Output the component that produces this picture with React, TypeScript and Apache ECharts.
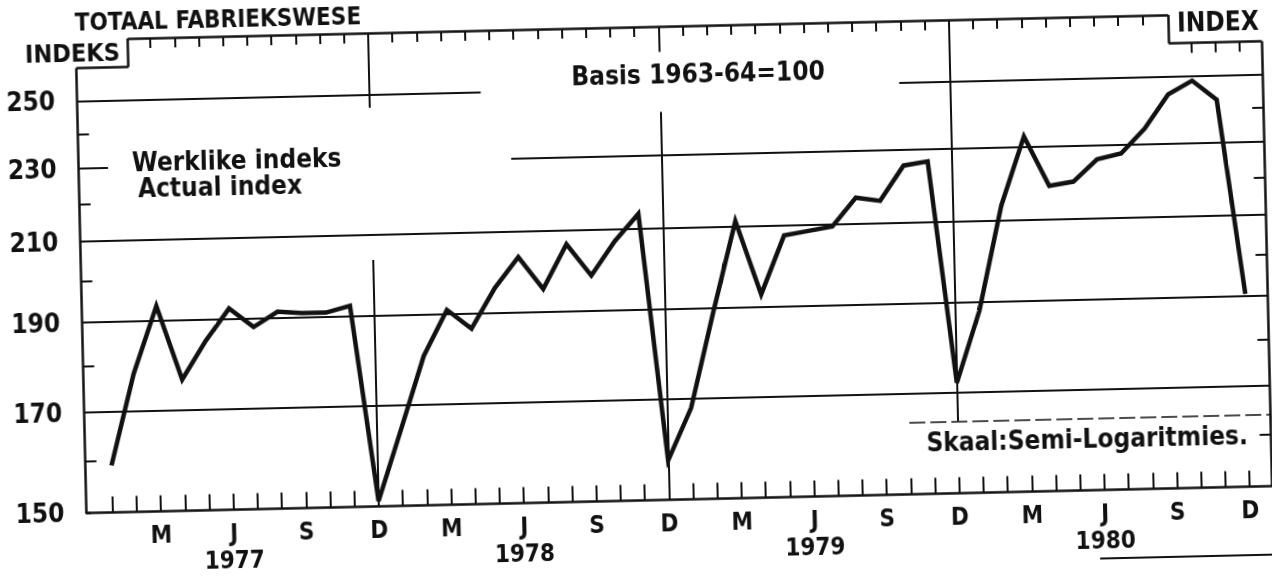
import React, { useEffect, useRef } from 'react';
import * as echarts from 'echarts';

// ---------- data ----------
const years = ['1977', '1978', '1979', '1980'];
const monthLetters = ['J', 'F', 'M', 'A', 'M', 'J', 'J', 'A', 'S', 'O', 'N', 'D'];
const labelledMonths = [2, 5, 8, 11]; // M, J, S, D
const yearLabelMonth = 5; // year written under "J"

const index1977 = [159, 178, 193.5, 176.5, 185, 192.5, 188, 191.5, 191, 191, 192.5, 151];
const index1978 = [165, 180.5, 191, 186.5, 196, 203.5, 195.5, 206.5, 198.5, 207, 214, 157.5];
const index1979 = [168, 189, 211.5, 193, 207.5, 208.5, 209.5, 217, 216, 225.5, 226.5, 172];
const index1980 = [188, 214, 233, 219, 220, 226, 227.5, 234.5, 244.5, 248.5, 242.5, 190.5];

const labelledLevels = [150, 170, 190, 210, 230, 250];
const minorLevels = [160, 180, 200, 220, 240];

// ---------- layout ----------
const FONT = "'DejaVu Sans Condensed', 'DejaVu Sans', sans-serif";
const INK = '#111';
const PAD = 40;
const X0 = 107.7; // px of first month (unrotated)
const DX = 24.2; // px per month
const X_MIN = -1.08;
const X_MAX = 47.92;
const Y_MIN = 150;
const Y_MAX = 269.8;
const XL = X_MIN + 0.0005;
const XR = X_MAX - 0.0005;
const TOPV = 269.79;
const NOTCH = 260.4;
const NL = 1.07;
const NR = 44.07;

const allValues = [...index1977, ...index1978, ...index1979, ...index1980];
const monthIdx = allValues.map((_, i) => i);

const GRID = { color: INK, width: 2, type: 'solid' };
const FRAME = { color: INK, width: 2.5, type: 'solid' };
const TICK = { color: INK, width: 2, type: 'solid' };

const yLabel = (v: number) => ({
  show: true,
  position: 'start',
  distance: 22,
  formatter: String(v),
  fontSize: 26,
  fontWeight: 'bold',
  fontFamily: FONT,
  color: INK,
});

function seg(x1: number, y1: number, x2: number, y2: number, lineStyle: any, label?: any) {
  return [
    { coord: [x1, y1], lineStyle, label: label ? label : { show: false } },
    { coord: [x2, y2] },
  ];
}

function buildMarkLines() {
  const ml: any[] = [];
  // horizontal grid lines with their labels
  ml.push(seg(XL, labelledLevels[5], 15.6, labelledLevels[5], GRID, yLabel(labelledLevels[5])));
  ml.push(seg(32.9, labelledLevels[5], XR, labelledLevels[5], GRID));
  ml.push(seg(XL, labelledLevels[4], 0.13, labelledLevels[4], GRID, yLabel(labelledLevels[4])));
  ml.push(seg(16.8, labelledLevels[4], XR, labelledLevels[4], GRID));
  [labelledLevels[3], labelledLevels[2], labelledLevels[1]].forEach((v) =>
    ml.push(seg(XL, v, XR, v, GRID, yLabel(v)))
  );
  ml.push(seg(XL, 150.0001, -0.9, 150.0001, FRAME, yLabel(labelledLevels[0])));
  // minor ticks, both sides
  minorLevels.forEach((v) => {
    ml.push(seg(XL, v, -0.62, v, TICK));
    ml.push(seg(XR, v, 47.46, v, TICK));
  });
  // frame with the two notches
  ml.push(seg(XL, 150.0001, XL, NOTCH, FRAME));
  ml.push(seg(XL, NOTCH, NL, NOTCH, FRAME));
  ml.push(seg(NL, NOTCH, NL, TOPV, FRAME));
  ml.push(seg(NL, TOPV, NR, TOPV, FRAME));
  ml.push(seg(NR, TOPV, NR, NOTCH, FRAME));
  ml.push(seg(NR, NOTCH, XR, NOTCH, FRAME));
  ml.push(seg(XR, NOTCH, XR, 150.0001, FRAME));
  // top ticks
  monthIdx.forEach((m) => {
    if (m >= 2 && m <= 43 && m % 12 !== 11) ml.push(seg(m, TOPV, m, 266.5, TICK));
    if (m >= 45) ml.push(seg(m, NOTCH, m, 257.2, TICK));
  });
  // December dividers
  ml.push(seg(11, TOPV, 11, 245.9, TICK));
  ml.push(seg(11, 203.6, 11, 150.0001, TICK));
  ml.push(seg(23, TOPV, 23, 261.4, TICK));
  ml.push(seg(23, 242.7, 23, 150.0001, TICK));
  ml.push(seg(35, TOPV, 35, 164.0, TICK));
  // box line above the scale note
  ml.push(seg(33.0, 164.0, XR, 164.0, { color: INK, width: 1.6, type: [16, 5] }));
  return ml;
}

const txt = (text: string, x: number, y: number, size: number, align = 'left') => ({
  type: 'text',
  x: x + PAD,
  y: y + PAD,
  silent: true,
  style: {
    text,
    fontSize: size,
    fontWeight: 'bold',
    fontFamily: FONT,
    fill: INK,
    textAlign: align,
    align,
    textVerticalAlign: 'middle',
    verticalAlign: 'middle',
  },
});

export default function App() {
  const ref = useRef<HTMLDivElement>(null);

  useEffect(() => {
    if (!ref.current) return;
    const chart = echarts.init(ref.current, null, { renderer: 'svg' });
    const gridLeft = X0 + X_MIN * DX;
    const gridRightEdge = X0 + X_MAX * DX;
    const option: any = {
      animation: false,
      backgroundColor: 'transparent',
      textStyle: { fontFamily: FONT },
      grid: {
        left: gridLeft + PAD,
        right: 1272 - gridRightEdge + PAD,
        top: 27 + PAD,
        bottom: 81.5 + PAD,
        containLabel: false,
      },
      xAxis: [
        {
          type: 'value',
          min: X_MIN,
          max: X_MAX,
          position: 'bottom',
          axisLine: { show: true, onZero: false, lineStyle: { color: INK, width: 2.5 } },
          axisTick: { show: true, inside: true, length: 16, customValues: monthIdx, lineStyle: { color: INK, width: 2 } },
          axisLabel: {
            show: true,
            customValues: monthIdx.filter((m) => labelledMonths.includes(m % 12)),
            formatter: (v: number) => monthLetters[Math.round(v) % 12],
            margin: 11,
            fontSize: 24,
            fontWeight: 'bold',
            fontFamily: FONT,
            color: INK,
          },
          splitLine: { show: false },
        },
        {
          type: 'value',
          min: X_MIN,
          max: X_MAX,
          position: 'bottom',
          axisLine: { show: false, onZero: false },
          axisTick: { show: false },
          axisLabel: {
            show: true,
            customValues: years.map((_, i) => i * 12 + yearLabelMonth),
            formatter: (v: number) => years[Math.floor(Math.round(v) / 12)],
            margin: 38,
            fontSize: 24,
            fontWeight: 'bold',
            fontFamily: FONT,
            color: INK,
          },
          splitLine: { show: false },
        },
      ],
      yAxis: {
        type: 'log',
        logBase: 10,
        min: Y_MIN,
        max: Y_MAX,
        axisLine: { show: false },
        axisTick: { show: false },
        axisLabel: { show: false },
        splitLine: { show: false },
      },
      series: [
        {
          name: 'Werklike indeks / Actual index',
          type: 'line',
          xAxisIndex: 0,
          yAxisIndex: 0,
          data: allValues.map((v, i) => [i, v]),
          showSymbol: false,
          symbol: 'none',
          lineStyle: { color: INK, width: 4.5, join: 'miter', miterLimit: 4 },
          z: 5,
          markLine: {
            silent: true,
            symbol: ['none', 'none'],
            label: { show: false },
            lineStyle: GRID,
            emphasis: { disabled: true },
            data: buildMarkLines(),
          },
        },
      ],
      graphic: [
        txt('TOTAAL FABRIEKSWESE', 81, 9.5, 24),
        txt('INDEKS', 125.4, 40.7, 25, 'right'),
        txt('INDEX', 1183, 34.9, 26),
        txt('Basis 1963-64=100', 703, 75, 26, 'center'),
        txt('Werklike indeks', 135, 151, 26),
        txt('Actual index', 140.4, 176.6, 26),
        txt('Skaal:Semi-Logaritmies.', 1083.6, 449.2, 26, 'center'),
        {
          type: 'line',
          silent: true,
          shape: { x1: 1094 + PAD, y1: 569 + PAD, x2: 1290 + PAD, y2: 569 + PAD },
          style: { stroke: INK, lineWidth: 2 },
        },
      ],
    };
    chart.setOption(option);
    return () => chart.dispose();
  }, []);

  return (
    <div
      ref={ref}
      style={{
        position: 'fixed',
        left: -PAD,
        top: -PAD,
        width: 1272 + 2 * PAD,
        height: 582 + 2 * PAD,
        transform: 'rotate(-1.3deg)',
        transformOrigin: `${636 + PAD}px ${291 + PAD}px`,
      }}
    />
  );
}
